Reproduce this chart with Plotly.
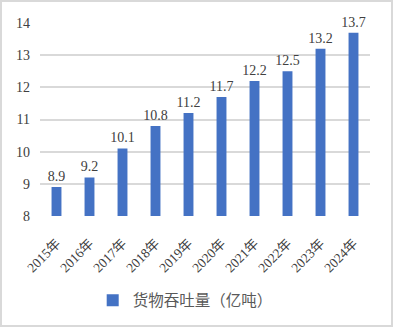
import plotly.graph_objects as go

years = ["2015年", "2016年", "2017年", "2018年", "2019年", "2020年", "2021年", "2022年", "2023年", "2024年"]
throughput = [8.9, 9.2, 10.1, 10.8, 11.2, 11.7, 12.2, 12.5, 13.2, 13.7]
series_name = "货物吞吐量（亿吨）"

W, H = 393, 327
L, R, T, B = 40, 23, 23, 111
pw, ph = W - L - R, H - T - B

fig = go.Figure()
fig.add_trace(go.Bar(
    x=years, y=throughput, name=series_name,
    marker=dict(color="#4472C4", line=dict(width=0)),
    width=0.3,
    text=[f"{v:.1f}" for v in throughput],
    textposition="outside",
    constraintext="none",
    textfont=dict(family="Liberation Serif", size=14, color="#404040"),
    cliponaxis=False,
    showlegend=True,
))

fig.update_layout(
    width=W, height=H,
    margin=dict(l=L, r=R, t=T, b=B, autoexpand=False),
    paper_bgcolor="white", plot_bgcolor="white",
    showlegend=True,
    legend=dict(orientation="h", x=0.44, xanchor="center", y=-0.35, yanchor="top",
                font=dict(family="Noto Sans CJK SC", size=15.5, color="#595959"),
                itemwidth=30),
    xaxis=dict(tickangle=-45, automargin=False, ticklabelstandoff=16,
               tickfont=dict(family="Liberation Serif, Noto Sans CJK SC", size=13.5, color="#404040"),
               showline=False, ticks="", showgrid=False),
    yaxis=dict(range=[8, 14], dtick=1, showgrid=True, gridcolor="#d9d9d9", gridwidth=2,
               zeroline=False, showline=False, ticks="", automargin=False,
               ticklabelstandoff=9,
               tickfont=dict(family="Liberation Serif", size=14, color="#404040")),
    shapes=[dict(type="rect", xref="paper", yref="paper",
                 x0=(1 - L) / pw, x1=(W - 1 - L) / pw,
                 y0=(T + ph - (H - 1)) / ph, y1=(T + ph - 1) / ph,
                 line=dict(color="#d9d9d9", width=2), layer="below")],
)

fig.write_html("out.html")
